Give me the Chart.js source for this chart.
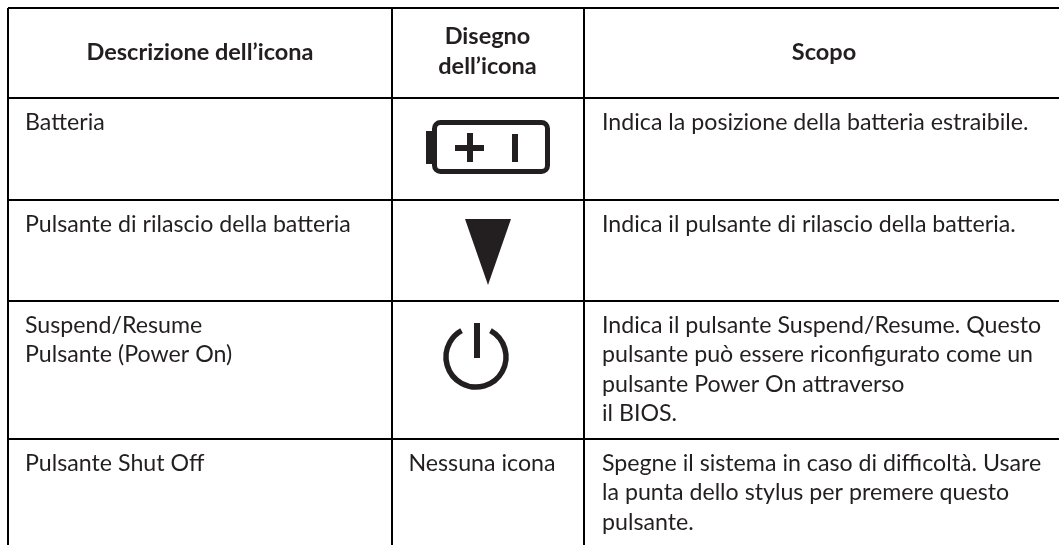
<!DOCTYPE html>
<html>
<head>
<meta charset="utf-8">
<style>body{margin:0;background:#fff}</style>
<script src="https://cdn.jsdelivr.net/npm/chart.js@4"></script>
</head>
<body>
<canvas id="iconTable" width="1059" height="545"></canvas>
<script>
// column and row edges, in page pixels, used as ticks so the grid draws the table rules
const columnEdges = [8, 392, 584];
const rowEdges = [8, 98, 200, 301, 439];

const headers = [
  ["Descrizione dell’icona"],
  ["Disegno", "dell’icona"],
  ["Scopo"]
];
const descriptions = [
  ["Batteria"],
  ["Pulsante di rilascio della batteria"],
  ["Suspend/Resume", "Pulsante (Power On)"],
  ["Pulsante Shut Off"]
];
const iconNotes = [[], [], [], ["Nessuna icona"]];
const purposes = [
  ["Indica la posizione della batteria estraibile."],
  ["Indica il pulsante di rilascio della batteria."],
  ["Indica il pulsante Suspend/Resume. Questo", "pulsante può essere riconfigurato come un", "pulsante Power On attraverso", "il BIOS."],
  ["Spegne il sistema in caso di difficoltà. Usare", "la punta dello stylus per premere questo", "pulsante."]
];

const INK = "#231f20";
const BODY_FONT = "23.2px Lato";
const HEAD_FONT = "bold 23.5px Lato";
const LINE_H = 29.3;

function drawLines(ctx, lines, x, y, align, lineH) {
  ctx.textAlign = align;
  lines.forEach((t, i) => ctx.fillText(t, x, y + i * lineH));
}

function drawBattery(ctx, X, Y) {
  ctx.fillStyle = INK;
  ctx.strokeStyle = INK;
  ctx.fillRect(X(426), Y(131), 7, 33);
  ctx.lineWidth = 5;
  ctx.beginPath();
  ctx.roundRect(X(434.5), Y(122.5), 113, 49, 6);
  ctx.stroke();
  ctx.fillRect(X(455), Y(145), 29, 6);
  ctx.fillRect(X(467), Y(133), 6, 29);
  ctx.fillRect(X(512), Y(134), 6, 28);
}

function drawTriangle(ctx, X, Y) {
  ctx.fillStyle = INK;
  ctx.beginPath();
  ctx.moveTo(X(465), Y(219));
  ctx.lineTo(X(511), Y(219));
  ctx.lineTo(X(488), Y(285));
  ctx.closePath();
  ctx.fill();
}

function drawPower(ctx, X, Y) {
  ctx.strokeStyle = INK;
  ctx.lineWidth = 5.5;
  ctx.beginPath();
  ctx.arc(X(476), Y(357), 30, -Math.PI * 0.34, Math.PI * 1.34);
  ctx.stroke();
  ctx.fillStyle = INK;
  ctx.fillRect(X(474), Y(323), 6, 35);
}

const tablePlugin = {
  id: "tablePlugin",
  afterDraw(chart) {
    const { ctx, scales: { x, y } } = chart;
    const X = v => x.getPixelForValue(v);
    const Y = v => y.getPixelForValue(v);
    ctx.save();
    ctx.fillStyle = INK;
    ctx.textBaseline = "alphabetic";

    ctx.font = HEAD_FONT;
    drawLines(ctx, headers[0], X(200), Y(60), "center", 30);
    drawLines(ctx, headers[1], X(487.5), Y(44), "center", 30);
    drawLines(ctx, headers[2], X(824), Y(60), "center", 30);

    const rowBase = [130, 232, 333, 471];
    ctx.font = BODY_FONT;
    rowBase.forEach((base, i) => {
      drawLines(ctx, descriptions[i], X(25), Y(base), "left", LINE_H);
      drawLines(ctx, iconNotes[i], X(482), Y(base), "center", LINE_H);
      drawLines(ctx, purposes[i], X(602), Y(base), "left", LINE_H);
    });

    drawBattery(ctx, X, Y);
    drawTriangle(ctx, X, Y);
    drawPower(ctx, X, Y);
    ctx.restore();
  }
};

new Chart(document.getElementById("iconTable"), {
  type: "scatter",
  data: { datasets: [{ data: [] }] },
  plugins: [tablePlugin],
  options: {
    responsive: false,
    animation: false,
    layout: { padding: { left: 8, right: 0, top: 8, bottom: 0 } },
    plugins: { legend: { display: false }, tooltip: { enabled: false } },
    scales: {
      x: {
        type: "linear",
        position: "top",
        min: 8,
        max: 1059,
        afterBuildTicks: s => { s.ticks = columnEdges.map(value => ({ value })); },
        grid: { color: "#000", lineWidth: 2, drawTicks: false },
        border: { display: false },
        ticks: { display: false }
      },
      y: {
        type: "linear",
        reverse: true,
        min: 8,
        max: 545,
        afterBuildTicks: s => { s.ticks = rowEdges.map(value => ({ value })); },
        grid: { color: "#000", lineWidth: 2, drawTicks: false },
        border: { display: false },
        ticks: { display: false }
      }
    }
  }
});
</script>
</body>
</html>
